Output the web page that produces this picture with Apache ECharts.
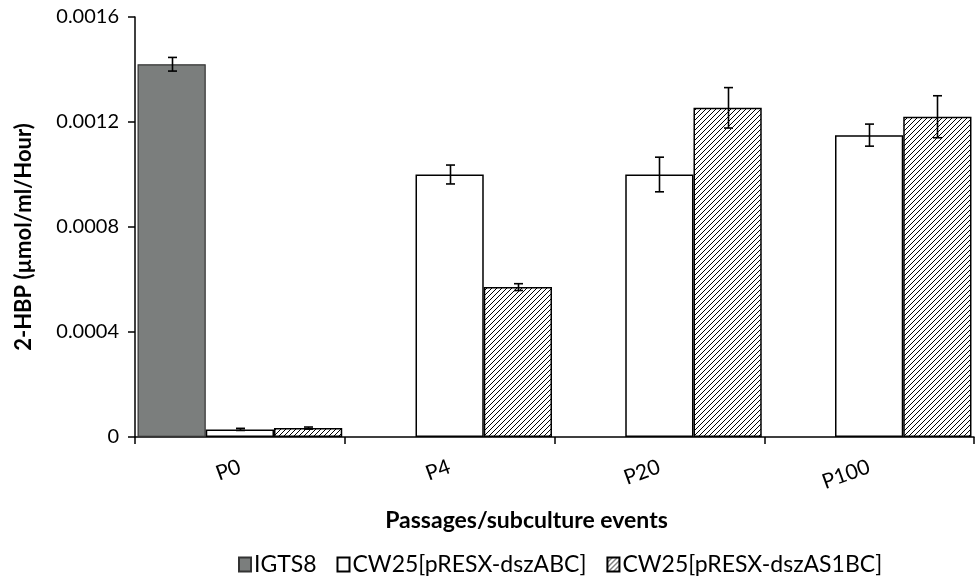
<!DOCTYPE html>
<html><head><meta charset="utf-8">
<script src="https://cdn.jsdelivr.net/npm/echarts@6/dist/echarts.min.js"></script>
<style>html,body{margin:0;padding:0;background:#fff}#c{width:977px;height:582px}</style>
</head><body><div id="c"></div>
<script>
const categories = ['P0', 'P4', 'P20', 'P100'];
const seriesNames = ['IGTS8', 'CW25[pRESX-dszABC]', 'CW25[pRESX-dszAS1BC]'];
const igts8 = [0.00142, null, null, null];
const dszABC = [0.000029, 0.001, 0.001, 0.00115];
const dszAS1BC = [0.000034, 0.000571, 0.001254, 0.00122];
const igts8Err = [0.000026, null, null, null];
const dszABCErr = [0.000004, 0.000036, 0.000066, 0.000042];
const dszAS1BCErr = [0.000004, 0.000013, 0.000077, 0.00008];
const yTickLabels = ['0', '0.0004', '0.0008', '0.0012', '0.0016'];
const xTitle = 'Passages/subculture events';
const yTitle = '2-HBP (µmol/ml/Hour)';

const FONT = 'Lato, "Open Sans", sans-serif';
const GAP = 0.024;

function hatchCanvas() {
  const s = 5;
  const c = document.createElement('canvas');
  c.width = s; c.height = s;
  const g = c.getContext('2d');
  g.fillStyle = '#fff'; g.fillRect(0, 0, s, s);
  g.strokeStyle = '#000'; g.lineWidth = 1;
  g.beginPath();
  g.moveTo(0, s); g.lineTo(s, 0);
  g.moveTo(-1, 1); g.lineTo(1, -1);
  g.moveTo(s - 1, s + 1); g.lineTo(s + 1, s - 1);
  g.stroke();
  return c;
}
const hatch = { image: hatchCanvas(), repeat: 'repeat' };

function errData(vals, errs) {
  const out = [];
  vals.forEach((v, i) => { if (v != null && errs[i] != null) out.push([i, v, errs[i]]); });
  return out;
}

function errSeries(vals, errs, idx) {
  return {
    type: 'custom',
    z: 10,
    silent: true,
    data: errData(vals, errs),
    renderItem: function (params, api) {
      const ci = api.value(0), v = api.value(1), e = api.value(2);
      const catW = api.size([1, 0])[0];
      const bw = catW * (1 - GAP) / 3;
      const off = (idx - 1) * bw;
      const top = api.coord([ci, v + e]);
      const bot = api.coord([ci, v - e]);
      const x = Math.round(top[0] + off) + 0.5;
      const hw = 4.5;
      const st = { stroke: '#000', lineWidth: 1.6 };
      return {
        type: 'group',
        children: [
          { type: 'line', shape: { x1: x, y1: top[1], x2: x, y2: bot[1] }, style: st },
          { type: 'line', shape: { x1: x - hw, y1: top[1], x2: x + hw, y2: top[1] }, style: st },
          { type: 'line', shape: { x1: x - hw, y1: bot[1], x2: x + hw, y2: bot[1] }, style: st }
        ]
      };
    }
  };
}

const chart = echarts.init(document.getElementById('c'), null, { renderer: 'canvas' });
chart.setOption({
  animation: false,
  backgroundColor: '#fff',
  textStyle: { fontFamily: FONT },
  grid: { left: 135, right: 3, top: 17, bottom: 145, containLabel: false, outerBoundsMode: 'none' },
  legend: {
    data: seriesNames,
    bottom: 1,
    left: 233,
    icon: 'rect',
    itemWidth: 12,
    itemHeight: 14,
    itemGap: 20,
    textStyle: { fontFamily: FONT, fontSize: 23, color: '#000', padding: [0, 0, 0, -2] }
  },
  xAxis: {
    type: 'category',
    data: categories,
    name: xTitle,
    nameLocation: 'middle',
    nameGap: 72,
    nameTextStyle: { fontFamily: FONT, fontSize: 23, fontWeight: 'bold', color: '#000', padding: [0, 56, 0, 0] },
    axisLine: { show: true, lineStyle: { color: '#000', width: 1.5 } },
    axisTick: { show: true, length: 7, interval: 0, lineStyle: { color: '#000', width: 1.5 } },
    axisLabel: { rotate: 20, fontSize: 21, color: '#000', margin: 29, interval: 0 },
    splitLine: { show: false }
  },
  yAxis: {
    type: 'value',
    min: 0,
    max: 0.0016,
    interval: 0.0004,
    name: yTitle,
    nameLocation: 'middle',
    nameGap: 100,
    nameTextStyle: { fontFamily: FONT, fontSize: 22, fontWeight: 'bold', color: '#000', padding: [0, 20, 0, 0] },
    axisLine: { show: true, lineStyle: { color: '#000', width: 1.5 } },
    axisTick: { show: true, length: 7, lineStyle: { color: '#000', width: 1.5 } },
    axisLabel: {
      fontSize: 20, color: '#000', margin: 16,
      formatter: function (v) { return yTickLabels[Math.round(v / 0.0004)]; }
    },
    splitLine: { show: false }
  },
  series: [
    {
      name: seriesNames[0], type: 'bar', data: igts8,
      barGap: '0%', barCategoryGap: (GAP * 100) + '%',
      itemStyle: { color: '#7b7e7d', borderColor: '#333', borderWidth: 1.2 }
    },
    {
      name: seriesNames[1], type: 'bar', data: dszABC,
      barGap: '0%', barCategoryGap: (GAP * 100) + '%',
      itemStyle: { color: '#fff', borderColor: '#000', borderWidth: 1.5 }
    },
    {
      name: seriesNames[2], type: 'bar', data: dszAS1BC,
      barGap: '0%', barCategoryGap: (GAP * 100) + '%',
      itemStyle: { color: hatch, borderColor: '#000', borderWidth: 1.5 }
    },
    errSeries(igts8, igts8Err, 0),
    errSeries(dszABC, dszABCErr, 1),
    errSeries(dszAS1BC, dszAS1BCErr, 2)
  ]
});
</script>
</body></html>
